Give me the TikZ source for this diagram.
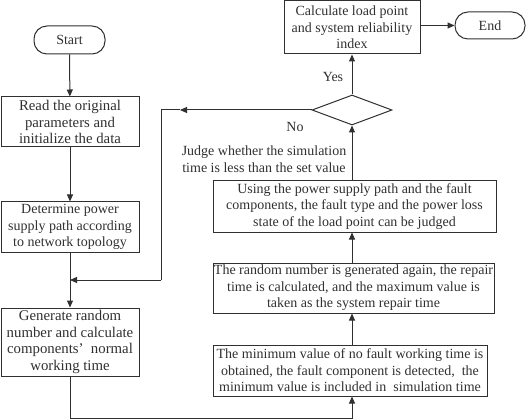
\documentclass[tikz,border=0pt]{standalone}
\usepackage{fontspec}
\setmainfont{Liberation Serif}
\usetikzlibrary{shapes.geometric,arrows.meta}
\definecolor{ink}{HTML}{303030}
\begin{document}
\begin{tikzpicture}[x=1pt,y=-1pt,
  every node/.style={font=\fontsize{14}{16.5}\selectfont, text=ink},
  big/.style={font=\fontsize{14.8}{16.5}\selectfont},
  box/.style={draw=ink, line width=1pt, align=center, inner sep=0pt},
  term/.style={draw=ink, line width=1pt, rounded corners=13pt, align=center, inner sep=0pt, minimum width=71pt, minimum height=28pt},
  line/.style={draw=ink, line width=1pt},
  arr/.style={line, -{Triangle[length=7pt,width=6pt]}}]
\useasboundingbox (0,0) rectangle (526,419);
\node[term] (start) at (69.5,40) {Start};
\node[box, big, minimum width=138pt, minimum height=50pt] (read) at (70,122) {Read the original\\parameters and\\initialize the data};
\node[box, minimum width=138pt, minimum height=50pt] (det) at (70,227) {Determine power\\supply path according\\to network topology};
\node[box, big, minimum width=138pt, minimum height=68pt] (gen) at (70,342) {Generate random\\number and calculate\\components’\enspace normal\\working time};
\node[box, minimum width=274pt, minimum height=51pt] (mini) at (350,370.5) {The minimum value of no fault working time is\\obtained, the fault component is detected,\ \ the\\minimum value is included in\ \ simulation time};
\node[box, minimum width=281pt, minimum height=50pt] (rand) at (353.5,288) {The random number is generated again, the repair\\time is calculated, and the maximum value is\\taken as the system repair time};
\node[box, minimum width=283pt, minimum height=51pt] (use) at (354.5,206.5) {Using the power supply path and the fault\\components, the fault type and the power loss\\state of the load point can be judged};
\node[diamond, draw=ink, line width=1pt, minimum width=80pt, minimum height=30pt, inner sep=0pt] (dia) at (352,110) {};
\node[align=center] (judge) at (264,159) {Judge whether the simulation\\time is less than the set value};
\node[box, minimum width=136pt, minimum height=53pt] (calc) at (352,27.5) {Calculate load point\\and system reliability\\index};
\node[term, minimum width=70pt, minimum height=27pt] (end) at (490,25.5) {End};
\node (yes) at (333,77) {Yes};
\node (no) at (295,127) {No};
\coordinate (bend1) at (161,110);
\coordinate (mid1) at (180,110);
\coordinate (bend2) at (161,280);
\coordinate (join) at (70,280);
\coordinate (low) at (70,418);
% connectors
\draw[arr] (start) -- (read);
\draw[arr] (read) -- (det);
\draw[arr] (det) -- (gen);
\draw[arr] (gen.south) -- (low) -| (mini.south -| dia);
\draw[arr] (mini.north -| dia) -- (rand.south -| dia);
\draw[arr] (rand.north -| dia) -- (use.south -| dia);
\draw[arr] (use.north -| dia) -- (dia.south);
\draw[arr] (dia.north) -- (calc.south -| dia);
\draw[arr] (calc.east |- end) -- (end.west);
\draw[arr] (dia.west) -- (mid1);
\draw[line] (mid1) -- (bend1) -- (bend2);
\draw[arr] (bend2) -- (join);
\end{tikzpicture}
\end{document}
